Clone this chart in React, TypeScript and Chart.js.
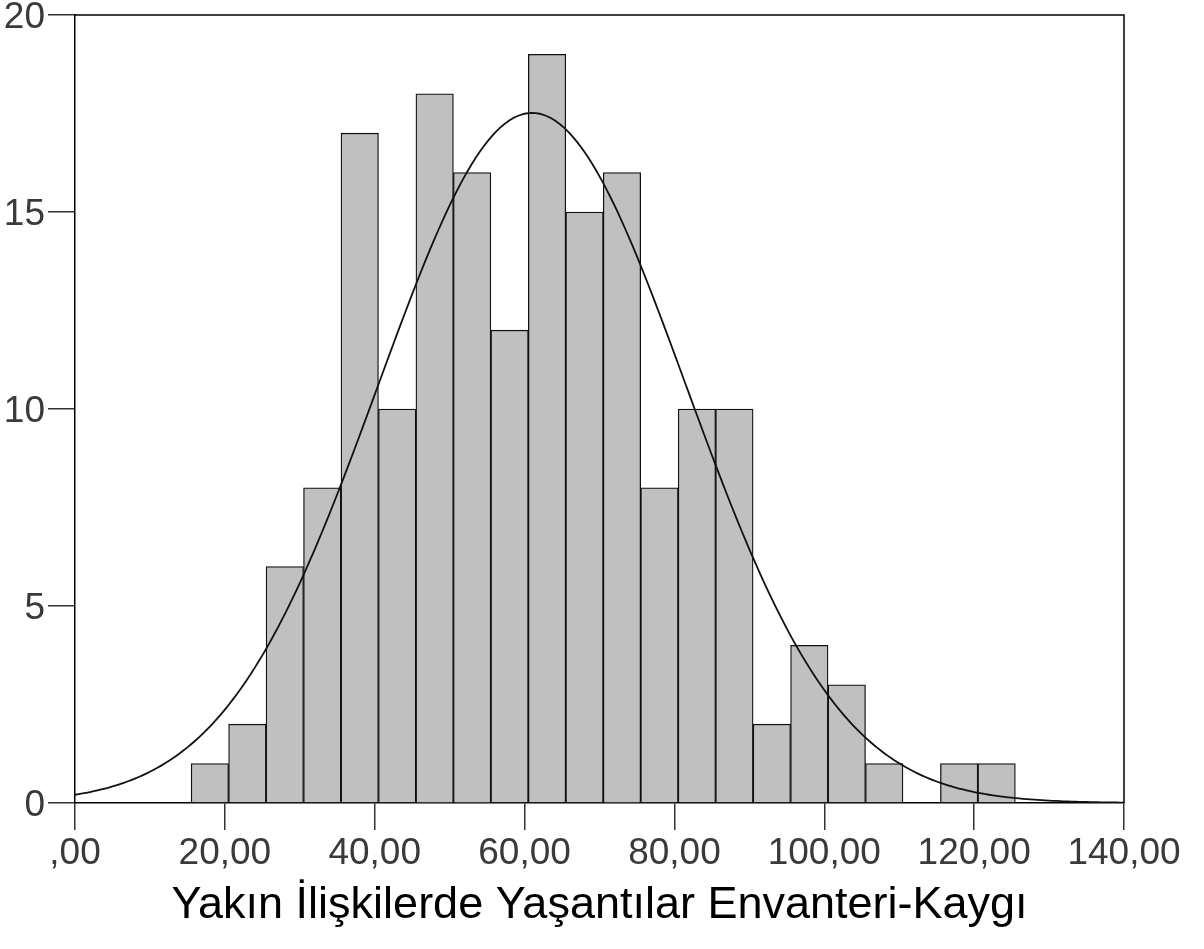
import React, { useEffect, useRef } from 'react';
import { Chart, registerables } from 'chart.js';

Chart.register(...registerables);

// Histogram bins (lower edge) and counts
const binStarts = [15.5, 20.5, 25.5, 30.5, 35.5, 40.5, 45.5, 50.5, 55.5, 60.5, 65.5, 70.5, 75.5, 80.5, 85.5, 90.5, 95.5, 100.5, 105.5, 110.5, 115.5, 120.5];
const binCounts = [1, 2, 6, 8, 17, 10, 18, 16, 12, 19, 15, 16, 8, 10, 10, 2, 4, 3, 1, 0, 1, 1];
const binWidth = 5;

// Normal fit parameters (as drawn by the original)
const fitMean = 61.0;
const fitSd = 20.5;
const sampleSize = 180;

const xTickValues = [0, 20, 40, 60, 80, 100, 120, 140];
const xTickLabels = [',00', '20,00', '40,00', '60,00', '80,00', '100,00', '120,00', '140,00'];
const yTickValues = [0, 5, 10, 15, 20];
const yTickLabels = ['0', '5', '10', '15', '20'];
const xTitle = 'Yakın İlişkilerde Yaşantılar Envanteri-Kaygı';

const FONT = "'Liberation Sans', Arial, sans-serif";

const framePlugin = {
  id: 'frame',
  afterDraw(chart: any) {
    const { ctx, chartArea } = chart;
    const { left, right, top, bottom } = chartArea;
    ctx.save();
    ctx.strokeStyle = '#000';
    ctx.lineWidth = 1.5;
    ctx.beginPath();
    ctx.moveTo(left, top);
    ctx.lineTo(right, top);
    ctx.lineTo(right, bottom);
    ctx.stroke();
    ctx.restore();
  },
};

export default function App() {
  const ref = useRef<HTMLCanvasElement | null>(null);

  useEffect(() => {
    if (!ref.current) return;
    const bars = binStarts
      .map((s, i) => ({ x: s + binWidth / 2, y: binCounts[i] }))
      .filter((p) => p.y > 0);
    const curve: { x: number; y: number }[] = [];
    for (let x = 0; x <= 140; x += 0.5) {
      const z = (x - fitMean) / fitSd;
      const y = (sampleSize * binWidth) / (fitSd * Math.sqrt(2 * Math.PI)) * Math.exp(-0.5 * z * z);
      curve.push({ x, y });
    }

    const chart = new Chart(ref.current, {
      type: 'bar',
      data: {
        datasets: [
          {
            type: 'line',
            data: curve,
            borderColor: '#111',
            borderWidth: 1.8,
            pointRadius: 0,
            tension: 0,
            fill: false,
            order: 0,
          } as any,
          {
            type: 'bar',
            data: bars,
            backgroundColor: '#c0c0c0',
            borderColor: '#111',
            borderWidth: 1.3,
            barPercentage: 1,
            categoryPercentage: 1,
            order: 1,
          } as any,
        ],
      },
      options: {
        responsive: false,
        animation: false,
        devicePixelRatio: 1,
        layout: { padding: { top: 15, right: 80, bottom: 0, left: 0 } },
        plugins: {
          legend: { display: false },
          tooltip: { enabled: false },
          title: { display: false },
        },
        scales: {
          x: {
            type: 'linear',
            min: 0,
            max: 140,
            offset: false,
            z: 1,
            afterBuildTicks: (scale: any) => {
              scale.ticks = xTickValues.map((v) => ({ value: v }));
            },
            afterFit: (scale: any) => {
              scale.height = 146;
            },
            ticks: {
              autoSkip: false,
              maxRotation: 0,
              padding: 2,
              color: '#3a3a3a',
              font: { family: FONT, size: 37, lineHeight: 1.2 },
              callback: (v: any) => xTickLabels[xTickValues.indexOf(Number(v))],
            },
            grid: {
              display: true,
              offset: false,
              drawOnChartArea: false,
              drawTicks: true,
              tickLength: 27,
              color: '#333',
              lineWidth: 1.5,
            },
            border: { display: true, color: '#000', width: 1.5 },
            title: {
              display: true,
              text: xTitle,
              color: '#000',
              font: { family: FONT, size: 45, lineHeight: 1.2 },
              padding: { top: 0, bottom: 16 },
            },
          },
          y: {
            type: 'linear',
            min: 0,
            max: 20,
            z: 1,
            afterBuildTicks: (scale: any) => {
              scale.ticks = yTickValues.map((v) => ({ value: v }));
            },
            afterFit: (scale: any) => {
              scale.width = 75;
            },
            ticks: {
              padding: 3,
              labelOffset: 3,
              color: '#3a3a3a',
              font: { family: FONT, size: 37, lineHeight: 0.6 },
              callback: (v: any) => yTickLabels[yTickValues.indexOf(Number(v))],
            },
            grid: {
              display: true,
              drawOnChartArea: false,
              drawTicks: true,
              tickLength: 27,
              color: '#333',
              lineWidth: 1.5,
            },
            border: { display: true, color: '#000', width: 1.5 },
          },
        },
      },
      plugins: [framePlugin],
    });
    return () => chart.destroy();
  }, []);

  return (
    <div style={{ position: 'fixed', left: 0, top: 0, width: 1204, height: 949, background: '#fff' }}>
      <canvas ref={ref} width={1204} height={949} style={{ width: 1204, height: 949, display: 'block' }} />
    </div>
  );
}
